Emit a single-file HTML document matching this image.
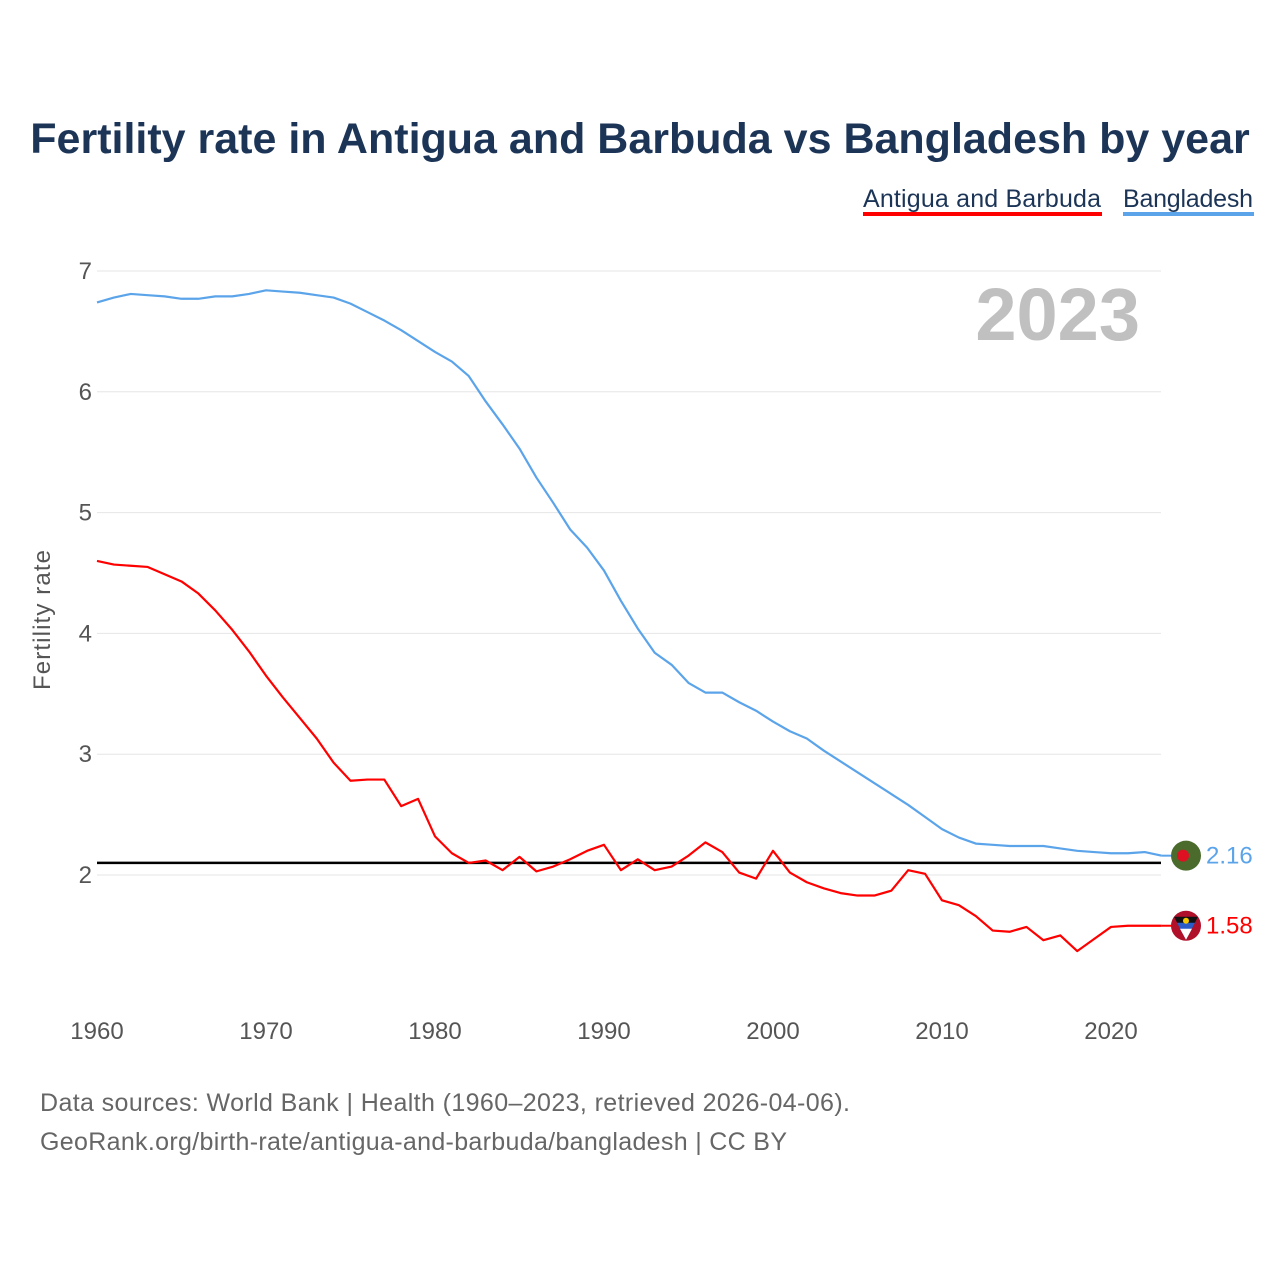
<!DOCTYPE html>
<html><head><meta charset="utf-8"><style>
body{margin:0;background:#fff;font-family:"Liberation Sans",sans-serif}
</style></head><body>
<svg width="1280" height="1280" viewBox="0 0 1280 1280" id="c">
<text x="640" y="153" text-anchor="middle" font-size="43" font-weight="bold" fill="#1c3557">Fertility rate in Antigua and Barbuda vs Bangladesh by year</text>
<g>
<text x="1101" y="207" text-anchor="end" font-size="25" fill="#1c3557" textLength="238">Antigua and Barbuda</text>
<rect x="863" y="212" width="239" height="4" fill="#ff0000"/>
<text x="1253" y="207" text-anchor="end" font-size="25" fill="#1c3557" textLength="130">Bangladesh</text>
<rect x="1123" y="212" width="131" height="4" fill="#5ba4ea"/>
</g>
<text x="1140" y="340" text-anchor="end" font-size="74" font-weight="bold" fill="#c0c0c0">2023</text>
<text transform="translate(50,620) rotate(-90)" text-anchor="middle" font-size="24" fill="#555" textLength="140">Fertility rate</text>
<g id="grid"></g><g id="lines"></g>
<text x="40" y="1111" font-size="25" fill="#666" textLength="810">Data sources: World Bank | Health (1960–2023, retrieved 2026-04-06).</text>
<text x="40" y="1150" font-size="25" fill="#666" textLength="747">GeoRank.org/birth-rate/antigua-and-barbuda/bangladesh | CC BY</text>
</svg>
<script>
const years=[];for(let y=1960;y<=2023;y++)years.push(y);
const antigua=[4.60,4.57,4.56,4.55,4.49,4.43,4.33,4.19,4.03,3.85,3.65,3.47,3.30,3.13,2.93,2.78,2.79,2.79,2.57,2.63,2.32,2.18,2.10,2.12,2.04,2.15,2.03,2.07,2.13,2.20,2.25,2.04,2.13,2.04,2.07,2.16,2.27,2.19,2.02,1.97,2.20,2.02,1.94,1.89,1.85,1.83,1.83,1.87,2.04,2.01,1.79,1.75,1.66,1.54,1.53,1.57,1.46,1.50,1.37,1.47,1.57,1.58,1.58,1.58];
const bangladesh=[6.74,6.78,6.81,6.80,6.79,6.77,6.77,6.79,6.79,6.81,6.84,6.83,6.82,6.80,6.78,6.73,6.66,6.59,6.51,6.42,6.33,6.25,6.13,5.92,5.73,5.53,5.29,5.08,4.86,4.71,4.52,4.27,4.04,3.84,3.74,3.59,3.51,3.51,3.43,3.36,3.27,3.19,3.13,3.03,2.94,2.85,2.76,2.67,2.58,2.48,2.38,2.31,2.26,2.25,2.24,2.24,2.24,2.22,2.20,2.19,2.18,2.18,2.19,2.16];
const yTicks=[2,3,4,5,6,7];
const xTicks=[1960,1970,1980,1990,2000,2010,2020];
const refValue=2.1;
const NS="http://www.w3.org/2000/svg";
const X=y=>97+(y-1960)*(1014/60);
const Y=v=>875-(v-2)*120.8;
const grid=document.getElementById('grid'),lines=document.getElementById('lines');
function mk(tag,at,parent){const e=document.createElementNS(NS,tag);for(const k in at)e.setAttribute(k,at[k]);parent.appendChild(e);return e;}
yTicks.forEach(t=>{
 const l=mk('line',{x1:97,x2:1161,y1:Y(t),y2:Y(t),stroke:'#e6e6e6','stroke-width':1},grid);
 
 
 const tx=mk('text',{x:92,y:Y(t)+8,'text-anchor':'end','font-size':24,fill:'#555'},grid);
 tx.textContent=t;
 
 
});
xTicks.forEach(t=>{
 const tx=mk('text',{x:X(t),y:1039,'text-anchor':'middle','font-size':24,fill:'#555'},grid);
 tx.textContent=t;
 
 
});
const ref=mk('line',{x1:97,x2:1161,y1:Y(refValue),y2:Y(refValue),stroke:'#000','stroke-width':2.5},lines);


function series(vals,color,name){
 const p=mk('polyline',{points:vals.map((v,i)=>X(years[i])+','+Y(v)).join(' '),fill:'none',stroke:color,'stroke-width':2.2,'stroke-linejoin':'round'},lines);
 
 
 const last=vals[vals.length-1],lx=X(years[years.length-1]);
 const ln=mk('line',{x1:lx,x2:1172,y1:Y(last),y2:Y(last),stroke:color,'stroke-width':2},lines);
 
 
 const t=mk('text',{x:1206,y:Y(last)+8,'font-size':24,fill:color},lines);
 t.textContent=last.toFixed(2);
 
 
 return Y(last);
}
const yb=series(bangladesh,'#5ba4ea','bangladesh');
const ya=series(antigua,'#ff0000','antigua');
let g=mk('g',{},lines);


mk('circle',{cx:1186,cy:yb,r:15,fill:'#4a6b2c'},g);
mk('circle',{cx:1183,cy:yb,r:6,fill:'#dd1122'},g);
g=mk('g',{},lines);


mk('circle',{cx:1186,cy:ya,r:15,fill:'#b0102a'},g);
mk('path',{d:`M1174 ${ya-9} L1198 ${ya-9} L1186 ${ya+14} Z`,fill:'#111'},g);
mk('path',{d:`M1177 ${ya-3} L1195 ${ya-3} L1186 ${ya+14} Z`,fill:'#2a5cc8'},g);
mk('path',{d:`M1180 ${ya+3} L1192 ${ya+3} L1186 ${ya+14} Z`,fill:'#fff'},g);
mk('circle',{cx:1186,cy:ya-5,r:3,fill:'#f5c800'},g);
</script>
</body></html>
